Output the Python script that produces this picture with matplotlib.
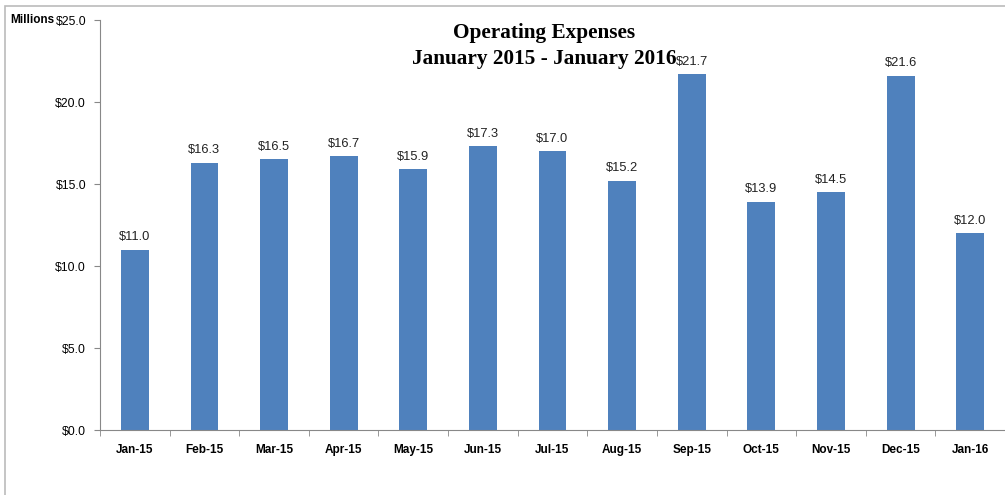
import matplotlib.pyplot as plt
from matplotlib.patches import Rectangle
import numpy as np

months = ["Jan-15", "Feb-15", "Mar-15", "Apr-15", "May-15", "Jun-15", "Jul-15",
          "Aug-15", "Sep-15", "Oct-15", "Nov-15", "Dec-15", "Jan-16"]
expenses = [11.0, 16.3, 16.5, 16.7, 15.9, 17.3, 17.0, 15.2, 21.7, 13.9, 14.5, 21.6, 12.0]
y_ticks = [0, 5, 10, 15, 20, 25]

W, H = 1005, 495
fig = plt.figure(figsize=(W / 100, H / 100), dpi=100)
ax = fig.add_axes([100 / W, 1 - 430 / H, (1005 - 100) / W, (430 - 20) / H])

x = np.arange(len(months))
ax.bar(x, expenses, width=0.4, color="#4F81BD", zorder=2)

for xi, v in zip(x, expenses):
    ax.text(xi, v + 0.4, f"${v:.1f}", ha="center", va="bottom",
            fontsize=9.3, family="Liberation Sans", color="#222222")

ax.set_xlim(-0.5, -0.5 + 905 / 70.5)
ax.set_ylim(0, 25)
ax.set_yticks(y_ticks)
ax.set_yticklabels([f"${t:.1f}" for t in y_ticks], fontsize=8.8, family="Liberation Sans")
ax.set_xticks(x)
ax.set_xticklabels(months, fontsize=8.5, family="Liberation Sans", fontweight="bold")
ax.set_xticks(np.arange(-0.5, len(months) + 0.5, 1), minor=True)
ax.tick_params(axis="x", which="major", length=0, pad=10)
ax.tick_params(axis="x", which="minor", length=4, color="#888888")
ax.tick_params(axis="y", length=4, color="#888888", pad=6)

for s in ["top", "right"]:
    ax.spines[s].set_visible(False)
for s in ["left", "bottom"]:
    ax.spines[s].set_color("#888888")

fig.text(544 / W, 1 - 46 / H, "Operating Expenses\nJanuary 2015 - January 2016",
         ha="center", va="center", fontsize=15.3, fontweight="bold",
         family="Liberation Serif", linespacing=1.35)
fig.text(10 / W, 1 - 20 / H, "Millions", ha="left", va="center",
         fontsize=8.5, fontweight="bold", family="Liberation Sans")

fig.patches.append(Rectangle((5 / W, -0.1), 1.2, 1 - 6 / H + 0.1, transform=fig.transFigure,
                             fill=False, edgecolor="#bbbbbb", linewidth=1.2))

fig.savefig("out.png", dpi=100)
